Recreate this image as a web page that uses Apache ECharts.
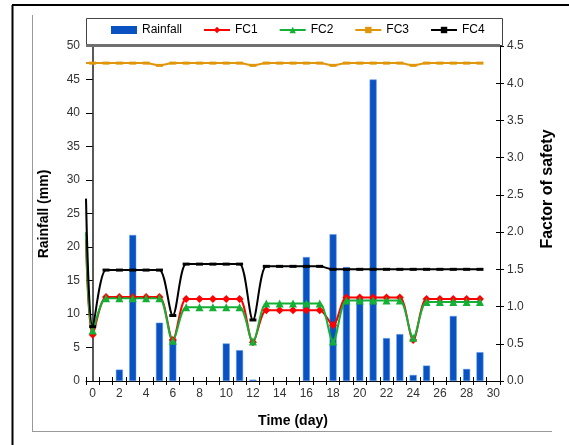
<!DOCTYPE html>
<html><head><meta charset="utf-8">
<script src="https://cdn.jsdelivr.net/npm/echarts@6/dist/echarts.min.js"></script>
<style>html,body{margin:0;padding:0;background:#fff}#c{width:569px;height:445px}</style>
</head><body><div id="c"></div>
<script>
const days = ['0','1','2','3','4','5','6','7','8','9','10','11','12','13','14','15','16','17','18','19','20','21','22','23','24','25','26','27','28','29','30'];
const rainfall = [null,null,1.7,21.8,null,8.7,6.3,null,null,null,5.6,4.6,0.2,null,null,null,18.5,null,21.9,17.0,12.5,45.0,6.4,7.0,0.9,2.3,null,9.7,1.8,4.3,null];
const fsTime = [-0.5,0,1,2,3,4,5,6,7,8,9,10,11,12,13,14,15,16,17,18,19,20,21,22,23,24,25,26,27,28,29];
const fc1 = [1.90,0.62,1.13,1.13,1.13,1.13,1.13,0.55,1.10,1.10,1.10,1.10,1.10,0.52,0.95,0.95,0.95,0.95,0.95,0.75,1.12,1.12,1.12,1.12,1.12,0.55,1.10,1.10,1.10,1.10,1.10];
const fc2 = [2.00,0.68,1.11,1.11,1.11,1.11,1.11,0.54,0.99,0.99,0.99,0.99,0.99,0.53,1.04,1.04,1.04,1.04,1.04,0.53,1.08,1.08,1.08,1.08,1.08,0.58,1.06,1.06,1.06,1.06,1.06];
const fc3 = [4.27,4.27,4.27,4.27,4.27,4.27,4.24,4.27,4.27,4.27,4.27,4.27,4.27,4.24,4.27,4.27,4.27,4.27,4.27,4.24,4.27,4.27,4.27,4.27,4.27,4.24,4.27,4.27,4.27,4.27,4.27];
const fc4 = [2.45,0.73,1.49,1.49,1.49,1.49,1.49,0.88,1.57,1.57,1.57,1.57,1.57,0.82,1.54,1.54,1.54,1.54,1.54,1.50,1.50,1.50,1.50,1.50,1.50,1.50,1.50,1.50,1.50,1.50,1.50];

const pair = arr => fsTime.map((t,i)=> i===0 ? {value:[t, arr[i]], symbol:'none'} : [t, arr[i]]);
const FONT = 'Liberation Sans, Arial, sans-serif';
const chart = echarts.init(document.getElementById('c'), null, {renderer:'canvas'});
const G = {left:86, right:69, top:46, bottom:64};
const lineSeries = (name, data, color, symbol, size) => ({
  name, type:'line', xAxisIndex:1, yAxisIndex:1, data: pair(data), smooth:0.3,
  symbol, symbolSize:size, showSymbol:true,
  lineStyle:{color, width:2}, itemStyle:{color}, z:3
});
chart.setOption({
  animation:false,
  backgroundColor:'#fff',
  grid:G,
  legend:{
    left:111, top:24, padding:0, itemWidth:26, itemHeight:8, itemGap:21,
    textStyle:{fontFamily:FONT, fontSize:12, color:'#000'},
    data:[{name:'Rainfall', icon:'rect', itemStyle:{borderWidth:0}},'FC1','FC2','FC3','FC4']
  },
  xAxis:[
    {type:'category', data:days, boundaryGap:true,
     axisLine:{lineStyle:{color:'#000', width:1}},
     axisTick:{show:true, interval:0, length:4, lineStyle:{color:'#000'}},
     axisLabel:{interval:1, fontFamily:FONT, fontSize:12, color:'#333', margin:7},
     splitLine:{show:false}},
    {type:'value', min:-0.5, max:30.5, show:false},
    {type:'category', data:days, boundaryGap:true, position:'bottom',
     axisLine:{show:false}, axisLabel:{show:false},
     axisTick:{show:true, inside:true, interval:0, length:4, lineStyle:{color:'#000'}}}
  ],
  yAxis:[
    {type:'value', min:0, max:50, interval:5, position:'left',
     axisLine:{show:true, lineStyle:{color:'#222', width:1.5}},
     axisTick:{show:true, length:4, lineStyle:{color:'#000'}},
     axisLabel:{fontFamily:FONT, fontSize:12, color:'#333', margin:6},
     splitLine:{show:false}},
    {type:'value', min:0, max:4.5, interval:0.5, position:'right',
     axisLine:{show:true, lineStyle:{color:'#000', width:1}},
     axisTick:{show:true, length:4, lineStyle:{color:'#000'}},
     axisLabel:{fontFamily:FONT, fontSize:12, color:'#333', margin:7, formatter:v=>v.toFixed(1)},
     splitLine:{show:false}},
    {type:'value', min:0, max:50, interval:5, position:'left',
     axisLine:{show:false}, axisLabel:{show:false}, splitLine:{show:false},
     axisTick:{show:true, inside:true, length:4, lineStyle:{color:'#000'}}},
    {type:'value', min:0, max:4.5, interval:0.5, position:'right',
     axisLine:{show:false}, axisLabel:{show:false}, splitLine:{show:false},
     axisTick:{show:true, inside:true, length:4, lineStyle:{color:'#000'}}}
  ],
  series:[
    {name:'Rainfall', type:'bar', xAxisIndex:0, yAxisIndex:0, data:rainfall, barWidth:7,
     itemStyle:{color:'#0a52c2', borderColor:'#5b9cf0', borderWidth:0.5}, z:2},
    lineSeries('FC1', fc1, '#ff0000', 'diamond', 8),
    lineSeries('FC2', fc2, '#14b035', 'triangle', 8),
    lineSeries('FC3', fc3, '#e0950a', 'rect', [7,3]),
    lineSeries('FC4', fc4, '#000000', 'rect', [7,3])
  ],
  graphic:[
    {type:'line', shape:{x1:12.5, y1:5, x2:12.5, y2:445}, style:{stroke:'#000', lineWidth:2}},
    {type:'line', shape:{x1:12, y1:5, x2:569, y2:5}, style:{stroke:'#000', lineWidth:2}},
    {type:'line', shape:{x1:32.5, y1:15, x2:32.5, y2:431}, style:{stroke:'#999', lineWidth:1}},
    {type:'line', shape:{x1:32, y1:431.5, x2:552, y2:431.5}, style:{stroke:'#999', lineWidth:1}},
    {type:'rect', shape:{x:86.5, y:18.5, width:416, height:27}, style:{fill:'none', stroke:'#444', lineWidth:1}, z:-1},
    {type:'line', shape:{x1:86, y1:45.5, x2:500, y2:45.5}, style:{stroke:'#707070', lineWidth:3}, z:10},
    {type:'text', x:293, y:421, style:{text:'Time (day)', font:'bold 14px '+FONT, fill:'#000', textAlign:'center', textVerticalAlign:'middle'}},
    {type:'text', x:44, y:214, rotation:Math.PI/2, style:{text:'Rainfall (mm)', font:'bold 14px '+FONT, fill:'#000', textAlign:'center', textVerticalAlign:'middle'}},
    {type:'text', x:548, y:189, rotation:Math.PI/2, style:{text:'Factor of safety', font:'bold 16px '+FONT, fill:'#000', textAlign:'center', textVerticalAlign:'middle'}}
  ]
});
</script></body></html>
